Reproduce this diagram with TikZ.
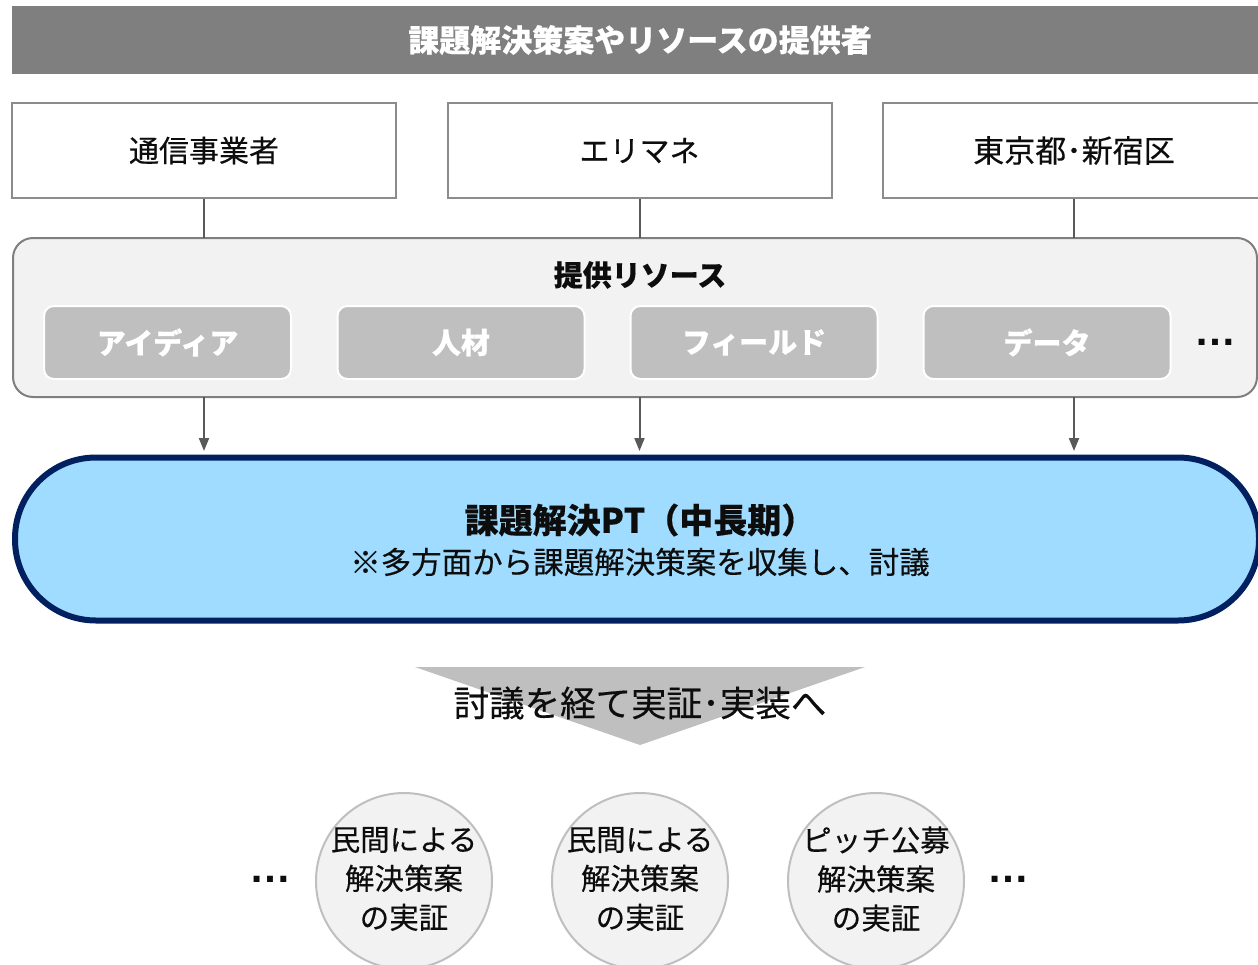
\documentclass[tikz,border=0pt]{standalone}
\usepackage{fontspec}
\newfontfamily\cjk[FakeBold=0.35]{Noto Sans CJK JP}
\newfontfamily\dotfont{Liberation Sans}
\usetikzlibrary{arrows.meta,shapes.geometric}
\definecolor{bannergray}{HTML}{7F7F7F}
\definecolor{boxborder}{HTML}{8C8C8C}
\definecolor{contfill}{HTML}{F2F2F2}
\definecolor{resfill}{HTML}{BFBFBF}
\definecolor{arrowgray}{HTML}{595959}
\definecolor{ptfill}{HTML}{A0DCFF}
\definecolor{ptborder}{HTML}{002060}
\definecolor{txt}{HTML}{0D0D0D}
\begin{document}
\begin{tikzpicture}[x=1pt,y=-1pt,
  every node/.style={font=\cjk, text=txt, inner sep=0pt},
  banner/.style={fill=bannergray, minimum width=1256pt, minimum height=68pt, text=white, font=\cjk\bfseries\fontsize{31}{36}\selectfont},
  provider/.style={draw=boxborder, line width=2pt, fill=white, minimum width=384pt, minimum height=95pt, font=\cjk\fontsize{30}{36}\selectfont},
  container/.style={draw=bannergray, line width=2pt, fill=contfill, rounded corners=20pt, minimum width=1244pt, minimum height=159pt},
  resbox/.style={draw=white, line width=2pt, fill=resfill, rounded corners=10pt, minimum width=247pt, minimum height=73pt, text=white, font=\cjk\bfseries\fontsize{29}{34}\selectfont},
  link/.style={draw=arrowgray, line width=2pt},
  arr/.style={link, -{Triangle[length=13pt,width=10pt]}},
  ptbox/.style={draw=ptborder, line width=6pt, fill=ptfill, rounded corners=81pt, minimum width=1244pt, minimum height=163pt},
  result/.style={circle, draw=resfill, line width=2pt, fill=contfill, minimum size=176pt},
  restxt/.style={align=center, font=\cjk\fontsize{29.5}{39}\selectfont},
  dots/.style={font=\dotfont\bfseries\fontsize{42}{44}\selectfont}
]
\useasboundingbox (0,0) rectangle (1258,964);
\clip (0,0) rectangle (1258,964);

% banner
\node[banner] (banner) at (640,40) {課題解決策案やリソースの提供者};

% providers
\node[provider] (p1) at (204,150.5) {通信事業者};
\node[provider] (p2) at (639.5,150.5) {エリマネ};
\node[provider] (p3) at (1075,150.5) {};
\node[font=\cjk\fontsize{31}{36}\selectfont] (p3t) at (1074,150.5) {東京都･新宿区};

% resource container
\node[container] (res) at (635,317.5) {};
\node[font=\cjk\bfseries\fontsize{29}{34}\selectfont] (restitle) at (640,275) {提供リソース};
\node[resbox] (r1) at (167.5,342.5) {アイディア};
\node[resbox] (r2) at (461,342.5) {人材};
\node[resbox] (r3) at (754,342.5) {フィールド};
\node[resbox] (r4) at (1047,342.5) {データ};
\node[dots] (rdots) at (1215,342) {…};

% connectors provider -> container
\coordinate (c1) at (204,238);
\coordinate (c2) at (639.5,238);
\coordinate (c3) at (1074,238);
\draw[link] (p1.south) -- (c1);
\draw[link] (p2.south) -- (c2);
\draw[link] (p3t.south |- p3.south) -- (c3);

% PT stadium
\node[ptbox] (pt) at (637,539) {};
\node[font=\cjk\bfseries\fontsize{34}{40}\selectfont] (pttitle) at (640,520) {課題解決PT（中長期）};
\node[font=\cjk\fontsize{30.5}{36}\selectfont] (ptsub) at (640,562) {※多方面から課題解決策案を収集し、討議};

% arrows container -> PT
\coordinate (a1) at (204,397);
\coordinate (a2) at (639.5,397);
\coordinate (a3) at (1074,397);
\coordinate (b1) at (204,451);
\coordinate (b2) at (639.5,451);
\coordinate (b3) at (1074,451);
\draw[arr] (a1) -- (b1);
\draw[arr] (a2) -- (b2);
\draw[arr] (a3) -- (b3);

% big down triangle
\coordinate (t1) at (415,667);
\coordinate (t2) at (865,667);
\coordinate (t3) at (640,745);
\fill[resfill] (t1) -- (t2) -- (t3) -- cycle;
\node[font=\cjk\fontsize{35.5}{40}\selectfont] (ttext) at (640,703) {討議を経て実証･実装へ};

% results
\node[result] (e1) at (404,881) {};
\node[result] (e2) at (640,881) {};
\node[result] (e3) at (876,881) {};
\node[restxt] (e1t) at (404,879) {民間による\\解決策案\\の実証};
\node[restxt] (e2t) at (640,879) {民間による\\解決策案\\の実証};
\node[restxt] (e3t) at (876,879) {ピッチ公募\\解決策案\\の実証};
\node[dots] (ld) at (270,879) {…};
\node[dots] (rd) at (1008,879) {…};
\end{tikzpicture}
\end{document}
